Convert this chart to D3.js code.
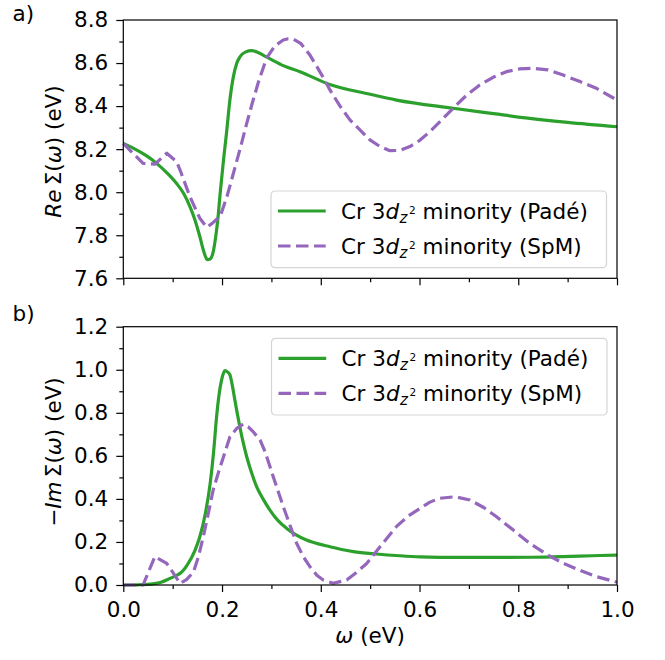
<!DOCTYPE html>
<html>
<head>
<meta charset="utf-8">
<script src="https://cdn.jsdelivr.net/npm/d3@7"></script>
<style>
  body { margin: 0; background: #fff; }
  svg { display: block; font-family: "DejaVu Sans", sans-serif; }
</style>
</head>
<body>
<svg id="chart" width="665" height="660"></svg>
<script>
// Real part of the self-energy, Padé continuation
const reOmegaPade = [0.0, 0.02, 0.045, 0.0675, 0.09, 0.108, 0.122, 0.135, 0.145, 0.155, 0.163, 0.170, 0.176, 0.182, 0.187, 0.192, 0.196, 0.203, 0.209, 0.216, 0.223, 0.230, 0.236, 0.248, 0.260, 0.272, 0.283, 0.300, 0.324, 0.358, 0.415, 0.5, 0.5535, 0.668, 0.75, 0.823, 0.9, 1.0];
const reValuePade = [8.227, 8.205, 8.172, 8.134, 8.086, 8.040, 7.995, 7.933, 7.872, 7.794, 7.725, 7.687, 7.690, 7.722, 7.790, 7.886, 7.990, 8.150, 8.274, 8.430, 8.537, 8.600, 8.628, 8.652, 8.658, 8.650, 8.637, 8.616, 8.588, 8.560, 8.503, 8.455, 8.428, 8.390, 8.365, 8.343, 8.324, 8.304];

// Real part of the self-energy, SpM continuation
const reOmegaSpm = [0.0, 0.02, 0.04, 0.064, 0.088, 0.108, 0.115, 0.135, 0.155, 0.169, 0.180, 0.192, 0.196, 0.210, 0.223, 0.237, 0.250, 0.262, 0.274, 0.290, 0.307, 0.324, 0.334, 0.344, 0.360, 0.378, 0.393, 0.408, 0.4185, 0.439, 0.459, 0.4995, 0.520, 0.540, 0.560, 0.5805, 0.600, 0.621, 0.645, 0.668, 0.695, 0.722, 0.750, 0.776, 0.803, 0.830, 0.860, 0.891, 0.925, 0.958, 1.0];
const reValueSpm = [8.227, 8.180, 8.134, 8.130, 8.181, 8.142, 8.103, 7.979, 7.879, 7.837, 7.855, 7.880, 7.886, 7.980, 8.088, 8.205, 8.320, 8.420, 8.514, 8.622, 8.680, 8.707, 8.713, 8.712, 8.690, 8.637, 8.580, 8.521, 8.475, 8.400, 8.336, 8.243, 8.212, 8.193, 8.194, 8.212, 8.240, 8.281, 8.336, 8.390, 8.450, 8.498, 8.535, 8.560, 8.573, 8.576, 8.568, 8.544, 8.514, 8.483, 8.428];

// Negative imaginary part of the self-energy, Padé continuation
const imOmegaPade = [0.0, 0.03, 0.054, 0.075, 0.094, 0.108, 0.115, 0.130, 0.145, 0.155, 0.166, 0.176, 0.183, 0.189, 0.194, 0.199, 0.203, 0.206, 0.211, 0.216, 0.221, 0.226, 0.231, 0.236, 0.243, 0.250, 0.260, 0.270, 0.283, 0.297, 0.313, 0.331, 0.350, 0.371, 0.395, 0.419, 0.442, 0.466, 0.513, 0.560, 0.601, 0.680, 0.756, 0.830, 0.891, 0.950, 1.0];
const imValuePade = [0.0, 0.001, 0.004, 0.012, 0.030, 0.045, 0.054, 0.095, 0.160, 0.224, 0.330, 0.472, 0.620, 0.782, 0.885, 0.952, 0.985, 0.996, 0.990, 0.976, 0.925, 0.859, 0.795, 0.735, 0.660, 0.596, 0.520, 0.457, 0.400, 0.348, 0.300, 0.263, 0.233, 0.209, 0.191, 0.178, 0.165, 0.155, 0.144, 0.136, 0.131, 0.128, 0.128, 0.129, 0.132, 0.136, 0.139];

// Negative imaginary part of the self-energy, SpM continuation
const imOmegaSpm = [0.0, 0.040, 0.064, 0.088, 0.100, 0.115, 0.128, 0.142, 0.152, 0.162, 0.172, 0.182, 0.193, 0.203, 0.216, 0.230, 0.243, 0.253, 0.263, 0.277, 0.287, 0.297, 0.310, 0.324, 0.338, 0.351, 0.365, 0.378, 0.392, 0.405, 0.425, 0.4525, 0.473, 0.493, 0.520, 0.553, 0.577, 0.601, 0.621, 0.641, 0.672, 0.702, 0.730, 0.756, 0.790, 0.823, 0.857, 0.891, 0.925, 0.958, 1.0];
const imValueSpm = [0.0, 0.0, 0.132, 0.100, 0.060, 0.008, 0.025, 0.060, 0.130, 0.224, 0.330, 0.441, 0.525, 0.596, 0.689, 0.728, 0.748, 0.735, 0.712, 0.674, 0.620, 0.550, 0.460, 0.364, 0.275, 0.194, 0.130, 0.085, 0.045, 0.023, 0.008, 0.023, 0.060, 0.100, 0.178, 0.271, 0.320, 0.356, 0.385, 0.403, 0.410, 0.395, 0.360, 0.317, 0.255, 0.194, 0.143, 0.101, 0.068, 0.039, 0.013];

// Axis ticks
const xTicks = [0.0, 0.2, 0.4, 0.6, 0.8, 1.0];
const xMinorTicks = [0.1, 0.3, 0.5, 0.7, 0.9];
const reTicks = [7.6, 7.8, 8.0, 8.2, 8.4, 8.6, 8.8];
const reMinorTicks = [7.7, 7.9, 8.1, 8.3, 8.5, 8.7];
const imTicks = [0.0, 0.2, 0.4, 0.6, 0.8, 1.0, 1.2];
const imMinorTicks = [0.1, 0.3, 0.5, 0.7, 0.9, 1.1];

const green = "#2ca02c";
const purple = "#9467bd";
const dashPattern = "12.5,5.5";
const lineWidth = 3.2;
const fontSize = 21.5;

const svg = d3.select("#chart");
const left = 123.3, right = 617;

const x = d3.scaleLinear().domain([0, 1]).range([left, right]);

function drawPanel(cfg) {
  const y = d3.scaleLinear().domain(cfg.domain).range([cfg.bottom, cfg.top]);
  const g = svg.append("g");

  const solid = d3.line().x(d => x(d[0])).y(d => y(d[1])).curve(d3.curveMonotoneX);
  const dashed = d3.line().x(d => x(d[0])).y(d => y(d[1])).curve(d3.curveLinear);

  g.append("path")
    .datum(d3.zip(cfg.padeX, cfg.padeY))
    .attr("d", solid)
    .attr("fill", "none").attr("stroke", green).attr("stroke-width", lineWidth)
    .attr("stroke-linejoin", "round");
  g.append("path")
    .datum(d3.zip(cfg.spmX, cfg.spmY))
    .attr("d", dashed)
    .attr("fill", "none").attr("stroke", purple).attr("stroke-width", lineWidth)
    .attr("stroke-dasharray", dashPattern).attr("stroke-linejoin", "round");

  // Axes with major and minor ticks
  const yAxis = g.append("g").attr("transform", `translate(${left},0)`)
    .call(d3.axisLeft(y).tickValues(cfg.ticks).tickSize(7).tickPadding(8).tickFormat(d3.format(".1f")));
  yAxis.append("g").call(d3.axisLeft(y).tickValues(cfg.minor).tickSize(4).tickFormat(""));
  const xAxis = g.append("g").attr("transform", `translate(0,${cfg.bottom})`)
    .call(d3.axisBottom(x).tickValues(xTicks).tickSize(7).tickPadding(10)
      .tickFormat(cfg.xLabels ? d3.format(".1f") : ""));
  xAxis.append("g").call(d3.axisBottom(x).tickValues(xMinorTicks).tickSize(4).tickFormat(""));

  svg.selectAll(".domain").remove();
  g.selectAll(".tick line").attr("stroke", "#000").attr("stroke-width", 1.2);
  g.selectAll(".tick text").attr("font-size", fontSize).attr("font-family", "DejaVu Sans").attr("fill", "#000");

  g.append("rect")
    .attr("x", left).attr("y", cfg.top)
    .attr("width", right - left).attr("height", cfg.bottom - cfg.top)
    .attr("fill", "none").attr("stroke", "#000").attr("stroke-width", 1.2);

  // Panel tag
  svg.append("text").attr("x", 12.5).attr("y", cfg.tagY)
    .attr("font-size", fontSize).text(cfg.tag);

  // Y label
  const yl = svg.append("text")
    .attr("transform", `translate(61,${cfg.yLabelCenter}) rotate(-90)`)
    .attr("text-anchor", "middle").attr("font-size", fontSize);
  cfg.yLabel(yl);

  // Legend
  const lg = svg.append("g").attr("transform", `translate(${cfg.legX},${cfg.legY})`);
  lg.append("rect").attr("x", 0).attr("y", 0).attr("width", 335.5).attr("height", 76.7)
    .attr("rx", 4).attr("fill", "#fff").attr("fill-opacity", 0.8)
    .attr("stroke", "#d5d5d5").attr("stroke-width", 1.2);
  const rows = [
    { color: green, dash: null, name: "Padé" },
    { color: purple, dash: dashPattern, name: "SpM" }
  ];
  rows.forEach((r, i) => {
    const cy = 20 + i * 35;
    lg.append("line").attr("x1", 7).attr("x2", 54.7).attr("y1", cy).attr("y2", cy)
      .attr("stroke", r.color).attr("stroke-width", lineWidth)
      .attr("stroke-dasharray", r.dash);
    const t = lg.append("text").attr("x", 70).attr("y", cy + 8).attr("font-size", fontSize);
    t.append("tspan").text("Cr 3");
    t.append("tspan").attr("font-style", "italic").text("d");
    t.append("tspan").attr("font-style", "italic").attr("font-size", fontSize * 0.7)
      .attr("dx", 0.5).attr("dy", 3.5).text("z");
    t.append("tspan").attr("font-size", fontSize * 0.49).attr("dx", 1.5).attr("dy", -8.5).text("2");
    t.append("tspan").attr("dy", 5).text(` minority (${r.name})`);
  });
}

drawPanel({
  domain: [7.6, 8.8], top: 20, bottom: 278.3,
  ticks: reTicks, minor: reMinorTicks, xLabels: false,
  padeX: reOmegaPade, padeY: reValuePade, spmX: reOmegaSpm, spmY: reValueSpm,
  tag: "a)", tagY: 21, yLabelCenter: 151.5, legX: 271, legY: 191,
  yLabel: t => {
    t.append("tspan").attr("font-style", "italic").text("Re");
    t.append("tspan").text("\u2009Σ(");
    t.append("tspan").attr("font-style", "italic").text("ω");
    t.append("tspan").text(") (eV)");
  }
});

drawPanel({
  domain: [0, 1.2], top: 326.7, bottom: 585,
  ticks: imTicks, minor: imMinorTicks, xLabels: true,
  padeX: imOmegaPade, padeY: imValuePade, spmX: imOmegaSpm, spmY: imValueSpm,
  tag: "b)", tagY: 321, yLabelCenter: 452, legX: 271.5, legY: 338.3,
  yLabel: t => {
    t.append("tspan").text("−");
    t.append("tspan").attr("font-style", "italic").text("Im");
    t.append("tspan").text("\u2009Σ(");
    t.append("tspan").attr("font-style", "italic").text("ω");
    t.append("tspan").text(") (eV)");
  }
});

// X label
const xl = svg.append("text").attr("x", (left + right) / 2).attr("y", 643)
  .attr("text-anchor", "middle").attr("font-size", fontSize);
xl.append("tspan").attr("font-style", "italic").text("ω");
xl.append("tspan").text(" (eV)");
</script>
</body>
</html>
